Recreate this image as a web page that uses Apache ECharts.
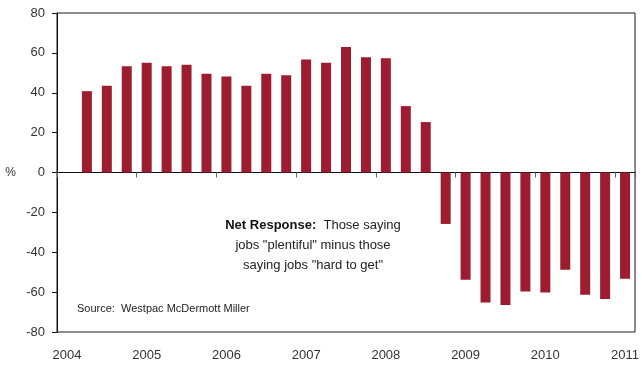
<!DOCTYPE html>
<html>
<head>
<meta charset="utf-8">
<script src="https://cdn.jsdelivr.net/npm/echarts@6/dist/echarts.min.js"></script>
<style>
  html, body { margin: 0; padding: 0; background: #fff; }
  #chart { width: 642px; height: 367px; }
</style>
</head>
<body>
<div id="chart"></div>
<script>
// quarterly categories, 2004 Q1 .. 2011 Q1
const quarters = [
    '2004 Q1', '2004 Q2', '2004 Q3', '2004 Q4',
    '2005 Q1', '2005 Q2', '2005 Q3', '2005 Q4',
    '2006 Q1', '2006 Q2', '2006 Q3', '2006 Q4',
    '2007 Q1', '2007 Q2', '2007 Q3', '2007 Q4',
    '2008 Q1', '2008 Q2', '2008 Q3', '2008 Q4',
    '2009 Q1', '2009 Q2', '2009 Q3', '2009 Q4',
    '2010 Q1', '2010 Q2', '2010 Q3', '2010 Q4',
    '2011 Q1'
];

// net response (%), first quarter has no survey value
const netResponse = [
    null, 40.8, 43.5, 53.3,
    55.0, 53.3, 54.0, 49.5,
    48.2, 43.5, 49.5, 48.8,
    56.7, 55.0, 63.0, 57.8,
    57.3, 33.3, 25.3, -25.8,
    -53.8, -65.2, -66.5, -59.7,
    -60.2, -48.8, -61.3, -63.5,
    -53.3
];

const yTicks = { min: -80, max: 80, step: 20 };

const chart = echarts.init(document.getElementById('chart'));
const font = '"Liberation Sans", Arial, sans-serif';

chart.setOption({
    animation: false,
    textStyle: { fontFamily: font },
    grid: {
        left: 57, right: 5, top: 13, bottom: 35,
        show: true, borderColor: '#1a1a1a', borderWidth: 1
    },
    xAxis: [
        {
            // labels along the bottom edge
            type: 'category',
            data: quarters,
            position: 'bottom',
            axisLine: { show: false, onZero: false },
            axisTick: { show: false },
            axisLabel: {
                interval: 3,
                margin: 17,
                color: '#333',
                fontSize: 13,
                formatter: v => v.slice(0, 4)
            }
        },
        {
            // zero line with year ticks
            type: 'category',
            data: quarters,
            position: 'top',
            axisLine: { show: true, onZero: true, lineStyle: { color: '#111', width: 1.2 } },
            axisTick: { show: true, inside: true, interval: 3, length: 5, lineStyle: { color: '#666' } },
            axisLabel: { show: false }
        }
    ],
    yAxis: {
        type: 'value',
        min: yTicks.min,
        max: yTicks.max,
        interval: yTicks.step,
        name: '%',
        nameLocation: 'middle',
        nameRotate: 0,
        nameGap: 41,
        nameTextStyle: { color: '#333', fontSize: 12 },
        axisLine: { show: true, lineStyle: { color: '#111' } },
        axisTick: { show: true, length: 5, lineStyle: { color: '#111' } },
        axisLabel: { color: '#333', fontSize: 13, margin: 12 },
        splitLine: { show: false }
    },
    series: [{
        type: 'bar',
        xAxisIndex: 0,
        data: netResponse,
        barWidth: 10,
        itemStyle: { color: '#9e1c2f' }
    }],
    graphic: [
        {
            type: 'text',
            x: 313, y: 215,
            style: {
                text: '{b|Net Response:}  Those saying\njobs "plentiful" minus those\nsaying jobs "hard to get"',
                rich: { b: { fontWeight: 'bold', fontSize: 13, fill: '#111', fontFamily: font } },
                fontSize: 13,
                fontFamily: font,
                fill: '#222',
                align: 'center',
                verticalAlign: 'top',
                lineHeight: 20
            }
        },
        {
            type: 'text',
            left: 77, top: 303,
            style: {
                text: 'Source:  Westpac McDermott Miller',
                fontSize: 11,
                fontFamily: font,
                fill: '#222'
            }
        }
    ]
});
</script>
</body>
</html>
